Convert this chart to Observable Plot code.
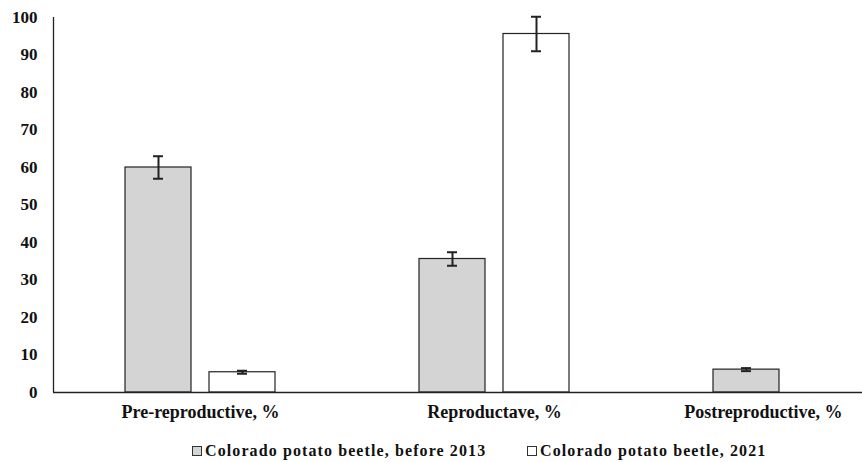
<!DOCTYPE html>
<html>
<head>
<meta charset="utf-8">
<script src="https://cdn.jsdelivr.net/npm/d3@7"></script>
<script src="https://cdn.jsdelivr.net/npm/@observablehq/plot@0.6"></script>
<style>
  html, body { margin: 0; padding: 0; background: #fff; overflow: hidden; }
  #wrap { position: relative; width: 862px; height: 462px; }
  #legend { position: absolute; left: 0; top: 436px; width: 862px; height: 26px;
    font-family: "Liberation Serif", "Times New Roman", serif; font-weight: bold; font-size: 16px;
    letter-spacing: 1.1px; color: #111; }
  .item { position: absolute; top: 6px; display: flex; align-items: center; white-space: nowrap; }
  .sw { width: 8px; height: 8px; border: 1px solid #333; margin-right: 3px; }
</style>
</head>
<body>
<div id="wrap"><div id="chart"></div><div id="legend"></div></div>
<script>
const categories = ["Pre-reproductive, %", "Reproductave, %", "Postreproductive, %"];
const seriesNames = ["Colorado potato beetle, before 2013", "Colorado potato beetle, 2021"];
const before2013 = [60, 35.6, 6.1];
const before2013Err = [3, 1.8, 0.4];
const y2021 = [5.4, 95.6, 0];
const y2021Err = [0.4, 4.6, 0];
const yTicks = [0, 10, 20, 30, 40, 50, 60, 70, 80, 90, 100];
const colors = ["#d4d4d4", "#ffffff"];

const gray = categories.map((c, i) => ({cat: c, v: before2013[i], e: before2013Err[i]}));
const white = categories.map((c, i) => ({cat: c, v: y2021[i], e: y2021Err[i]})).filter(d => d.v > 0);

const font = "'Liberation Serif', 'Times New Roman', serif";

const chart = Plot.plot({
  width: 862,
  height: 436,
  marginLeft: 53,
  marginRight: 0,
  marginTop: 17,
  marginBottom: 44,
  style: {fontFamily: font, fontWeight: "bold", fontSize: "17px", color: "#111", background: "#fff"},
  x: {type: "band", domain: categories, range: [53, 935], padding: 0, axis: null},
  y: {domain: [0, 100], range: [392, 17], axis: null, label: null},
  marks: [
    Plot.barY(gray, {x: "cat", y: "v", fill: colors[0], stroke: "#222", strokeWidth: 1.2, insetLeft: 72, insetRight: 156}),
    Plot.barY(white, {x: "cat", y: "v", fill: colors[1], stroke: "#222", strokeWidth: 1.2, insetLeft: 156, insetRight: 72}),
    // error bars
    Plot.ruleX(gray, {x: "cat", y1: d => d.v - d.e, y2: d => d.v + d.e, dx: -42, stroke: "#222", strokeWidth: 2}),
    Plot.tickY(gray, {x: "cat", y: d => d.v + d.e, insetLeft: 100, insetRight: 184, stroke: "#222", strokeWidth: 2}),
    Plot.tickY(gray, {x: "cat", y: d => d.v - d.e, insetLeft: 100, insetRight: 184, stroke: "#222", strokeWidth: 2}),
    Plot.ruleX(white, {x: "cat", y1: d => d.v - d.e, y2: d => d.v + d.e, dx: 42, stroke: "#222", strokeWidth: 2}),
    Plot.tickY(white, {x: "cat", y: d => d.v + d.e, insetLeft: 184, insetRight: 100, stroke: "#222", strokeWidth: 2}),
    Plot.tickY(white, {x: "cat", y: d => d.v - d.e, insetLeft: 184, insetRight: 100, stroke: "#222", strokeWidth: 2}),
    // axes lines
    Plot.ruleY([0], {stroke: "#222", strokeWidth: 1.3}),
    Plot.ruleX([categories[0]], {y1: 0, y2: 100, dx: -147, stroke: "#222", strokeWidth: 1.3}),
    Plot.axisY({ticks: yTicks, tickSize: 0, tickPadding: 16, fontSize: 17, fontWeight: "bold", label: null}),
    // category labels
    Plot.text(categories.slice(0, 2), {x: d => d, y: 0, dy: 20, fontSize: 18, fontWeight: "bold", fill: "#111"}),
    Plot.text(categories.slice(2), {x: d => d, y: 0, dy: 20, dx: 54, textAnchor: "end", fontSize: 18, fontWeight: "bold", fill: "#111"})
  ]
});
document.getElementById("chart").appendChild(chart);

// legend
const legend = document.getElementById("legend");
const lefts = [192, 527];
seriesNames.forEach((name, i) => {
  const it = document.createElement("div");
  it.className = "item";
  it.style.left = lefts[i] + "px";
  it.innerHTML = `<span class="sw" style="background:${colors[i]}"></span><span>${name}</span>`;
  legend.appendChild(it);
});
</script>
</body>
</html>
